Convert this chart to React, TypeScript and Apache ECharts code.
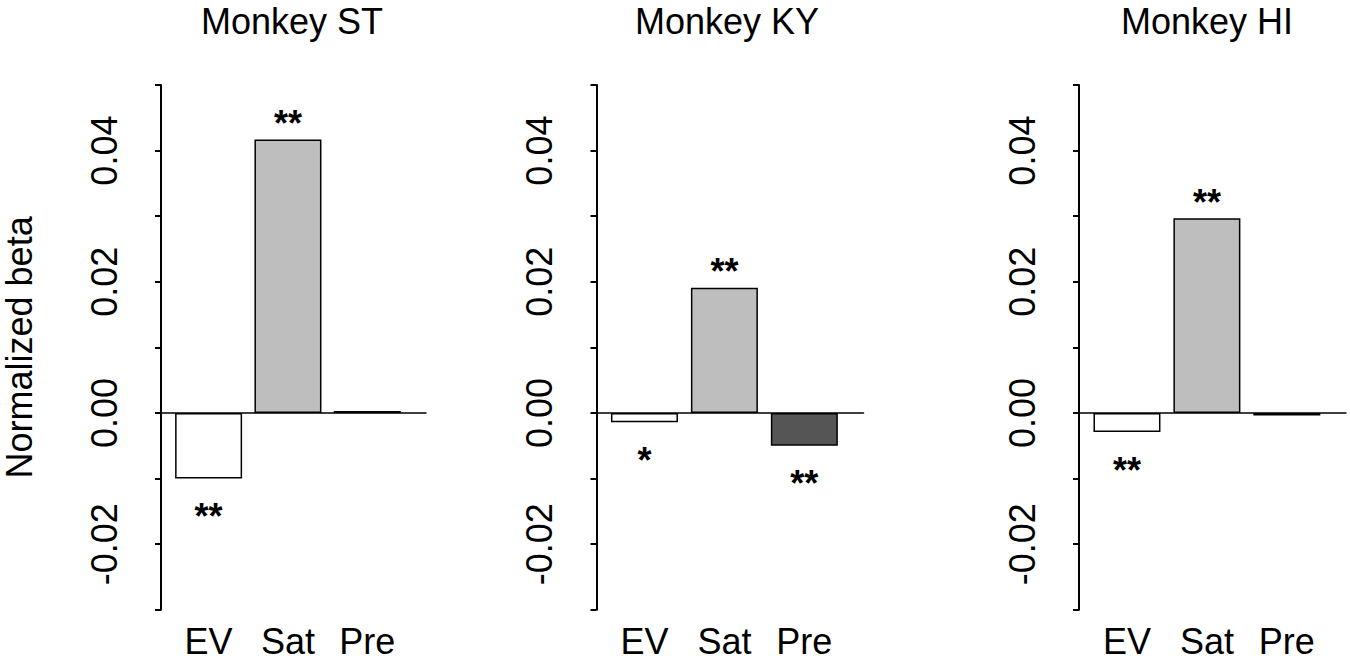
import React, { useEffect, useRef } from "react";
import * as echarts from "echarts";

const categories = ["EV", "Sat", "Pre"];
const panelTitles = ["Monkey ST", "Monkey KY", "Monkey HI"];
const betaST = [-0.01, 0.0417, 0.0003];
const betaKY = [-0.0014, 0.0191, -0.005];
const betaHI = [-0.0029, 0.0297, -0.0004];
const starsST = ["**", "**", ""];
const starsKY = ["*", "**", "**"];
const starsHI = ["**", "**", ""];
const barColors = ["#ffffff", "#bebebe", "#555555"];
const yMin = -0.03;
const yMax = 0.05;
const yStep = 0.01;
const yAxisTitle = "Normalized beta";

const FONT = "'Liberation Sans', Arial, sans-serif";

export default function App() {
  const ref = useRef<HTMLDivElement>(null);
  useEffect(() => {
    if (!ref.current) return;
    const chart = echarts.init(ref.current, null, { renderer: "svg" });
    const panels = [
      { values: betaST, stars: starsST },
      { values: betaKY, stars: starsKY },
      { values: betaHI, stars: starsHI },
    ];
    const gridLefts = [159, 596.5, 1079];
    const titleCenters = [287, 722, 1202];
    const gridWidth = 267;
    const gridTop = 85;
    const gridHeight = 524.8;
    const xMin = 0.4;
    const xMax = 3.74;

    const grid: any[] = [];
    const xAxis: any[] = [];
    const yAxis: any[] = [];
    const series: any[] = [];
    const title: any[] = [];

    panels.forEach((p, i) => {
      grid.push({ left: gridLefts[i], top: gridTop, width: gridWidth, height: gridHeight, containLabel: false });
      title.push({
        text: panelTitles[i],
        left: titleCenters[i],
        textAlign: "center",
        top: -2,
        textStyle: { fontFamily: FONT, fontSize: 36, fontWeight: "normal", color: "#000" },
      });
      xAxis.push({
        type: "value",
        gridIndex: i,
        min: xMin,
        max: xMax,
        position: "bottom",
        axisLine: { show: true, onZero: true, lineStyle: { color: "#000", width: 1.5 } },
        axisTick: { show: false },
        axisLabel: { show: false },
        splitLine: { show: false },
      });
      xAxis.push({
        type: "value",
        gridIndex: i,
        min: xMin,
        max: xMax,
        position: "bottom",
        axisLine: { show: false, onZero: false },
        axisTick: { show: false },
        splitLine: { show: false },
        axisLabel: {
          show: true,
          customValues: categories.map((_, k) => k + 1),
          formatter: (v: number) => categories[Math.round(v) - 1] ?? "",
          margin: 14,
          fontFamily: FONT,
          fontSize: 36,
          color: "#000",
        },
      });
      yAxis.push({
        type: "value",
        gridIndex: i,
        min: yMin,
        max: yMax,
        interval: yStep,
        name: i === 0 ? yAxisTitle : "",
        nameLocation: "middle",
        nameGap: 124,
        nameRotate: 90,
        nameTextStyle: { fontFamily: FONT, fontSize: 36, color: "#000" },
        axisLine: { show: true, onZero: false, lineStyle: { color: "#000", width: 2 } },
        axisTick: { show: true, length: 6, lineStyle: { color: "#000", width: 2 } },
        splitLine: { show: false },
        axisLabel: {
          rotate: 90,
          margin: 39,
          fontFamily: FONT,
          fontSize: 36,
          color: "#000",
          formatter: (v: number) => {
            const k = Math.round(v * 100);
            return k % 2 === 0 ? (k / 100).toFixed(2) : "";
          },
        },
      });
      series.push({
        type: "bar",
        xAxisIndex: i * 2,
        yAxisIndex: i,
        barWidth: 67,
        data: p.values.map((v, k) => ({
          value: [k + 1, v],
          itemStyle: { color: barColors[k], borderColor: "#000", borderWidth: 1.5 },
          label: {
            show: p.stars[k] !== "",
            formatter: p.stars[k],
            position: v >= 0 ? "top" : "bottom",
            distance: v >= 0 ? -2 : 20,
            fontFamily: FONT,
            fontSize: 36,
            fontWeight: "bold",
            color: "#000",
          },
        })),
      });
    });

    chart.setOption({
      animation: false,
      backgroundColor: "#ffffff",
      title,
      grid,
      xAxis,
      yAxis,
      series,
    });
    return () => chart.dispose();
  }, []);
  return (
    <div
      ref={ref}
      style={{ position: "fixed", left: 0, top: 0, width: 1350, height: 661, background: "#fff" }}
    />
  );
}
